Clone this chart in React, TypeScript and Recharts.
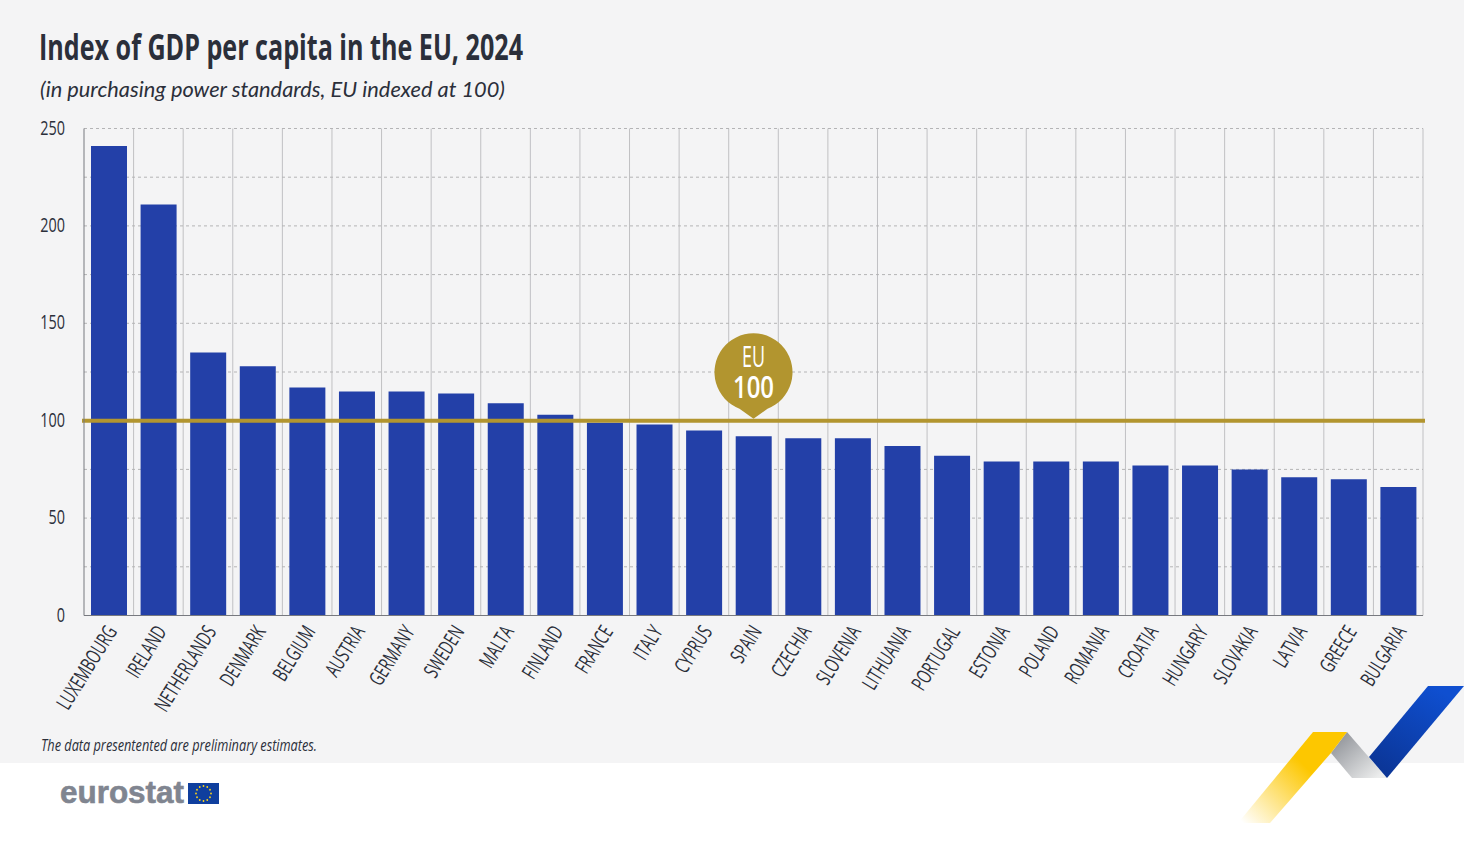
import { BarChart, Bar, XAxis, YAxis, CartesianGrid, ReferenceLine, ReferenceDot } from 'recharts';

const countries = [
  'LUXEMBOURG', 'IRELAND', 'NETHERLANDS', 'DENMARK', 'BELGIUM', 'AUSTRIA', 'GERMANY', 'SWEDEN', 'MALTA',
  'FINLAND', 'FRANCE', 'ITALY', 'CYPRUS', 'SPAIN', 'CZECHIA', 'SLOVENIA', 'LITHUANIA', 'PORTUGAL', 'ESTONIA',
  'POLAND', 'ROMANIA', 'CROATIA', 'HUNGARY', 'SLOVAKIA', 'LATVIA', 'GREECE', 'BULGARIA',
];
const gdpIndex = [241, 211, 135, 128, 117, 115, 115, 114, 109, 103, 99, 98, 95, 92, 91, 91, 87, 82, 79, 79, 79, 77, 77, 75, 71, 70, 66];
const yTicks = [0, 25, 50, 75, 100, 125, 150, 175, 200, 225, 250];
const labelledTicks = [0, 50, 100, 150, 200, 250];
const euLevel = 100;

const data = countries.map((name, i) => ({ name, value: gdpIndex[i] }));

const FONT = '"Open Sans", sans-serif';
const TEXT = '#2b2f3a';
const GOLD = '#b2952f';
const NARROW = 0.66; // no condensed face installed, so squeeze the glyphs

function CountryTick({ x, y, payload }: any) {
  return (
    <text
      x={0}
      y={0}
      transform={`translate(${x + 9},${y + 8}) rotate(-58) scale(${NARROW},1)`}
      textAnchor="end"
      fontFamily={FONT}
      fontSize={21}
      fill={TEXT}
    >
      {payload.value}
    </text>
  );
}

function ValueTick({ x, y, payload }: any) {
  if (!labelledTicks.includes(payload.value)) return null;
  return (
    <text
      x={0}
      y={0}
      transform={`translate(${x - 11},${y + 6}) scale(0.72,1)`}
      textAnchor="end"
      fontFamily={FONT}
      fontSize={20}
      fill={TEXT}
    >
      {payload.value}
    </text>
  );
}

// line pokes out a couple of pixels past the plot on both sides
function EuLine({ x1, x2, y1, y2 }: any) {
  return <line x1={x1 - 2} x2={x2 + 2} y1={y1} y2={y2} stroke={GOLD} strokeWidth={4} />;
}

function EuBadge({ cx, cy }: any) {
  return (
    <g>
      <path
        d={`M ${cx} ${cy - 2} L ${cx - 14} ${cy - 12} A 39 39 0 1 1 ${cx + 14} ${cy - 12} Z`}
        fill={GOLD}
      />
      <text
        x={cx}
        y={cy - 54}
        textAnchor="middle"
        fontFamily={FONT}
        fontSize={30}
        textLength={23}
        lengthAdjust="spacingAndGlyphs"
        fill="#fff"
      >
        EU
      </text>
      <text
        x={cx}
        y={cy - 23}
        textAnchor="middle"
        fontFamily={FONT}
        fontSize={31}
        fontWeight={600}
        textLength={41}
        lengthAdjust="spacingAndGlyphs"
        fill="#fff"
      >
        100
      </text>
    </g>
  );
}

function Backdrop() {
  const stars = Array.from({ length: 12 }, (_, i) => i * 30);
  return (
    <svg width={1464} height={841} style={{ position: 'absolute', left: 0, top: 0 }}>
      <defs>
        <linearGradient id="yellowFade" x1="1330" y1="740" x2="1245" y2="825" gradientUnits="userSpaceOnUse">
          <stop offset="0.3" stopColor="#fdc700" />
          <stop offset="1" stopColor="#fdc700" stopOpacity="0" />
        </linearGradient>
        <linearGradient id="greyFade" x1="1335" y1="735" x2="1375" y2="780" gradientUnits="userSpaceOnUse">
          <stop offset="0" stopColor="#8d9096" />
          <stop offset="1" stopColor="#eceded" />
        </linearGradient>
        <linearGradient id="blueFade" x1="1440" y1="690" x2="1385" y2="775" gradientUnits="userSpaceOnUse">
          <stop offset="0" stopColor="#0f4fd0" />
          <stop offset="1" stopColor="#0b3596" />
        </linearGradient>
      </defs>
      <rect width={1464} height={763} fill="#f4f4f5" />
      <polygon points="1347,732 1387,778 1352,778 1331,753" fill="url(#greyFade)" />
      <polygon points="1313,732 1347,732 1331,753 1270,823 1238,823" fill="url(#yellowFade)" />
      <polygon points="1428,686 1464,686 1387,778 1369,757" fill="url(#blueFade)" />

      <text x={39} y={60} fontFamily={FONT} fontWeight={700} fontSize={36} textLength={484} lengthAdjust="spacingAndGlyphs" fill={TEXT}>
        Index of GDP per capita in the EU, 2024
      </text>
      <text x={40} y={97} fontFamily="Lato, sans-serif" fontStyle="italic" fontSize={22} textLength={465} lengthAdjust="spacingAndGlyphs" fill={TEXT}>
        (in purchasing power standards, EU indexed at 100)
      </text>
      <text x={41} y={751} fontFamily={FONT} fontStyle="italic" fontSize={16} textLength={276} lengthAdjust="spacingAndGlyphs" fill={TEXT}>
        The data presentented are preliminary estimates.
      </text>

      <text x={60} y={803} fontFamily='"Liberation Sans", sans-serif' fontWeight={700} fontSize={32} textLength={124} lengthAdjust="spacingAndGlyphs" fill="#808590" stroke="#808590" strokeWidth={0.6}>
        eurostat
      </text>
      <rect x={188} y={783} width={31} height={21} fill="#0f3f9e" />
      {stars.map((a) => (
        <circle
          key={a}
          cx={203.5 + 7.5 * Math.cos((a * Math.PI) / 180)}
          cy={793.5 + 7.5 * Math.sin((a * Math.PI) / 180)}
          r={0.9}
          fill="#ffd617"
        />
      ))}
    </svg>
  );
}

export default function App() {
  return (
    <div style={{ position: 'absolute', left: 0, top: 0, width: 1482, height: 841, background: '#fff', overflow: 'hidden' }}>
      <Backdrop />
      <div style={{ position: 'absolute', left: 0, top: 0 }}>
        <BarChart
          width={1464}
          height={841}
          data={data}
          margin={{ top: 128.5, right: 41, bottom: 0, left: 24 }}
          barSize={36}
        >
          <CartesianGrid
            horizontal={false}
            stroke="#c0c0c3"
            strokeWidth={1}
            verticalCoordinatesGenerator={({ offset }: any) =>
              countries.map((_, i) => offset.left + ((i + 1) * offset.width) / countries.length)
            }
          />
          <CartesianGrid vertical={false} stroke="#b4b4b6" strokeDasharray="3 3" />
          <XAxis
            dataKey="name"
            interval={0}
            height={225.5}
            tick={<CountryTick />}
            tickLine={false}
            axisLine={{ stroke: '#77797f', strokeWidth: 1 }}
          />
          <YAxis
            width={60}
            domain={[0, 250]}
            ticks={yTicks}
            interval={0}
            tick={<ValueTick />}
            tickLine={false}
            axisLine={{ stroke: '#77797f', strokeWidth: 1 }}
          />
          <Bar dataKey="value" fill="#2340a8" isAnimationActive={false} />
          <ReferenceLine y={euLevel} shape={<EuLine />} />
          <ReferenceDot x="SPAIN" y={euLevel} shape={<EuBadge />} />
        </BarChart>
      </div>
    </div>
  );
}
